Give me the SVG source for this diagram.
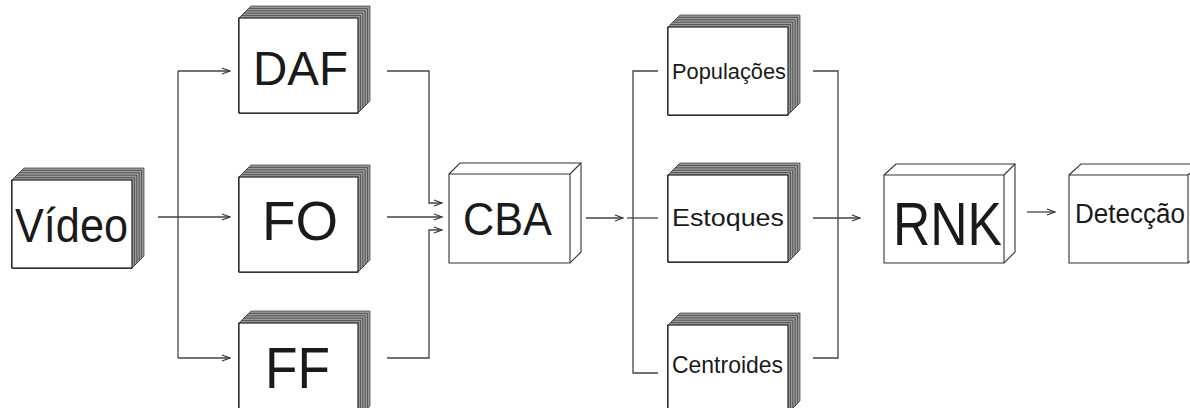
<svg xmlns="http://www.w3.org/2000/svg" width="1190" height="408" viewBox="0 0 1190 408">
<defs>
<marker id="arr" markerWidth="10" markerHeight="8" refX="9" refY="4" orient="auto" markerUnits="userSpaceOnUse">
<path d="M1,1 L9,4 L1,7" fill="none" stroke="#333" stroke-width="1.1"/>
</marker>
</defs>
<style>
.pg{fill:#9c9c9c;stroke:#333;stroke-width:0.7}
.fr{fill:#fff;stroke:#222;stroke-width:1.2}
.cb{fill:#fff;stroke:#333;stroke-width:1.1}
.ed{fill:none;stroke:#333;stroke-width:1.1}
.t{font-family:"Liberation Sans",Arial,sans-serif;fill:#1a1a1a}
.ln{fill:none;stroke:#444;stroke-width:1.3}
.ar{marker-end:url(#arr)}
</style>
<rect width="1190" height="408" fill="#fff"/>

<g id="connectors">
<path class="ln ar" d="M158,217 H230"/>
<path class="ln" d="M178,71 V358"/>
<path class="ln ar" d="M178,71 H230"/>
<path class="ln ar" d="M178,358 H230"/>
<path class="ln ar" d="M387,71 H429 V203 H442"/>
<path class="ln ar" d="M387,217 H442"/>
<path class="ln ar" d="M387,358 H429 V230 H442"/>
<path class="ln ar" d="M586,218 H623"/>
<path class="ln" d="M658,71 H633 V373 H658"/>
<path class="ln" d="M627,218 H658"/>
<path class="ln" d="M813,71 H838 V358 H813"/>
<path class="ln ar" d="M813,218 H860"/>
<path class="ln ar" d="M1027,212 H1055"/>
</g>

<g id="video">
<polygon class="pg" points="12,180 24,168 144,168 144,256 132,268 12,268"/>
<polygon class="pg" points="12,180 21.6,170.4 141.6,170.4 141.6,258.4 132,268 12,268"/>
<polygon class="pg" points="12,180 19.2,172.8 139.2,172.8 139.2,260.8 132,268 12,268"/>
<polygon class="pg" points="12,180 16.8,175.2 136.8,175.2 136.8,263.2 132,268 12,268"/>
<polygon class="pg" points="12,180 14.4,177.6 134.4,177.6 134.4,265.6 132,268 12,268"/>
<rect class="fr" x="12" y="180" width="120" height="88"/>
<text class="t" x="15" y="242" font-size="49" textLength="113" lengthAdjust="spacingAndGlyphs">Vídeo</text>
</g>

<g id="daf">
<polygon class="pg" points="239,18 251,6 370,6 370,101 358,113 239,113"/>
<polygon class="pg" points="239,18 248.6,8.4 367.6,8.4 367.6,103.4 358,113 239,113"/>
<polygon class="pg" points="239,18 246.2,10.8 365.2,10.8 365.2,105.8 358,113 239,113"/>
<polygon class="pg" points="239,18 243.8,13.2 362.8,13.2 362.8,108.2 358,113 239,113"/>
<polygon class="pg" points="239,18 241.4,15.6 360.4,15.6 360.4,110.6 358,113 239,113"/>
<rect class="fr" x="239" y="18" width="119" height="95"/>
<text class="t" x="253" y="85" font-size="48" textLength="95" lengthAdjust="spacingAndGlyphs">DAF</text>
</g>

<g id="fo">
<polygon class="pg" points="239,177 251,165 370,165 370,260 358,272 239,272"/>
<polygon class="pg" points="239,177 248.6,167.4 367.6,167.4 367.6,262.4 358,272 239,272"/>
<polygon class="pg" points="239,177 246.2,169.8 365.2,169.8 365.2,264.8 358,272 239,272"/>
<polygon class="pg" points="239,177 243.8,172.2 362.8,172.2 362.8,267.2 358,272 239,272"/>
<polygon class="pg" points="239,177 241.4,174.6 360.4,174.6 360.4,269.6 358,272 239,272"/>
<rect class="fr" x="239" y="177" width="119" height="95"/>
<text class="t" x="262" y="240" font-size="56" textLength="76" lengthAdjust="spacingAndGlyphs">FO</text>
</g>

<g id="ff">
<polygon class="pg" points="239,323 251,311 370,311 370,406 358,418 239,418"/>
<polygon class="pg" points="239,323 248.6,313.4 367.6,313.4 367.6,408.4 358,418 239,418"/>
<polygon class="pg" points="239,323 246.2,315.8 365.2,315.8 365.2,410.8 358,418 239,418"/>
<polygon class="pg" points="239,323 243.8,318.2 362.8,318.2 362.8,413.2 358,418 239,418"/>
<polygon class="pg" points="239,323 241.4,320.6 360.4,320.6 360.4,415.6 358,418 239,418"/>
<rect class="fr" x="239" y="323" width="119" height="95"/>
<text class="t" x="265" y="388" font-size="57" textLength="65" lengthAdjust="spacingAndGlyphs">FF</text>
</g>

<g id="cba">
<polygon class="cb" points="449,174 460,163 581,163 581,252 570,263 449,263"/>
<path class="ed" d="M449,174 H570 V263 M570,174 L581,163"/>
<text class="t" x="463" y="235" font-size="46" textLength="89" lengthAdjust="spacingAndGlyphs">CBA</text>
</g>

<g id="populacoes">
<polygon class="pg" points="668,27 680,15 800,15 800,103 788,115 668,115"/>
<polygon class="pg" points="668,27 677.6,17.4 797.6,17.4 797.6,105.4 788,115 668,115"/>
<polygon class="pg" points="668,27 675.2,19.8 795.2,19.8 795.2,107.8 788,115 668,115"/>
<polygon class="pg" points="668,27 672.8,22.2 792.8,22.2 792.8,110.2 788,115 668,115"/>
<polygon class="pg" points="668,27 670.4,24.6 790.4,24.6 790.4,112.6 788,115 668,115"/>
<rect class="fr" x="668" y="27" width="120" height="88"/>
<text class="t" x="672" y="79" font-size="22" textLength="114" lengthAdjust="spacingAndGlyphs">Populações</text>
</g>

<g id="estoques">
<polygon class="pg" points="668,175 680,163 800,163 800,250 788,262 668,262"/>
<polygon class="pg" points="668,175 677.6,165.4 797.6,165.4 797.6,252.4 788,262 668,262"/>
<polygon class="pg" points="668,175 675.2,167.8 795.2,167.8 795.2,254.8 788,262 668,262"/>
<polygon class="pg" points="668,175 672.8,170.2 792.8,170.2 792.8,257.2 788,262 668,262"/>
<polygon class="pg" points="668,175 670.4,172.6 790.4,172.6 790.4,259.6 788,262 668,262"/>
<rect class="fr" x="668" y="175" width="120" height="87"/>
<text class="t" x="672" y="226" font-size="24" textLength="112" lengthAdjust="spacingAndGlyphs">Estoques</text>
</g>

<g id="centroides">
<polygon class="pg" points="668,325 680,313 800,313 800,401 788,413 668,413"/>
<polygon class="pg" points="668,325 677.6,315.4 797.6,315.4 797.6,403.4 788,413 668,413"/>
<polygon class="pg" points="668,325 675.2,317.8 795.2,317.8 795.2,405.8 788,413 668,413"/>
<polygon class="pg" points="668,325 672.8,320.2 792.8,320.2 792.8,408.2 788,413 668,413"/>
<polygon class="pg" points="668,325 670.4,322.6 790.4,322.6 790.4,410.6 788,413 668,413"/>
<rect class="fr" x="668" y="325" width="120" height="88"/>
<text class="t" x="672" y="373" font-size="24" textLength="111" lengthAdjust="spacingAndGlyphs">Centroides</text>
</g>

<g id="rnk">
<polygon class="cb" points="884,175 896,164 1015,164 1015,252 1004,263 884,263"/>
<path class="ed" d="M884,175 H1004 V263 M1004,175 L1015,164"/>
<text class="t" x="893" y="245" font-size="62" textLength="109" lengthAdjust="spacingAndGlyphs">RNK</text>
</g>

<g id="deteccao">
<polygon class="cb" points="1069,175 1081,164 1200,164 1200,252 1188,263 1069,263"/>
<path class="ed" d="M1069,175 H1188 V263 M1188,175 L1199,164"/>
<text class="t" x="1075" y="223" font-size="27" textLength="110" lengthAdjust="spacingAndGlyphs">Detecção</text>
</g>
</svg>
